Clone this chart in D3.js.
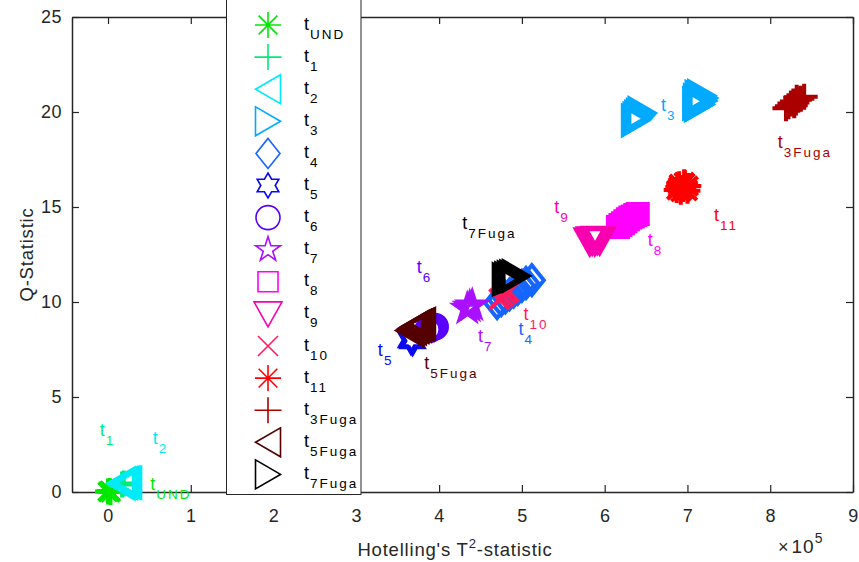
<!DOCTYPE html>
<html>
<head>
<meta charset="utf-8">
<script src="https://cdn.jsdelivr.net/npm/d3@7"></script>
<style>
  html, body { margin: 0; padding: 0; background: #fff; }
  svg { display: block; font-family: Arial, "Liberation Sans", Helvetica, sans-serif; }
</style>
</head>
<body>
<svg id="chart" width="859" height="562"></svg>
<script>
// Series names (main letter "t" + subscript)
const seriesNames = ["UND", "1", "2", "3", "4", "5", "6", "7", "8", "9", "10", "11", "3Fuga", "5Fuga", "7Fuga"];

// Observations per series: [Hotelling T² (×10^5), Q-statistic]
const ptsUND = [[0.00, 0.02], [0.02, 0.05], [0.03, 0.00]];
const pts1 = [[0.17, 0.40], [0.19, 0.45]];
const pts2 = [[0.16, 0.45], [0.19, 0.47], [0.22, 0.50], [0.24, 0.48]];
const pts3 = [[6.37, 19.55], [6.39, 19.65], [6.41, 19.75], [6.43, 19.85], [6.45, 19.95],
              [7.11, 20.45], [7.12, 20.62], [7.13, 20.52], [7.13, 20.35], [7.14, 20.45],
              [7.14, 20.80], [7.15, 20.60], [7.15, 20.40], [7.16, 20.72], [7.17, 20.68],
              [7.17, 20.85], [7.18, 20.58], [7.19, 20.74]];
const pts4 = [[4.70, 9.95], [4.75, 10.10], [4.80, 10.25], [4.85, 10.40], [4.90, 10.55],
              [4.95, 10.70], [5.00, 10.85], [5.05, 11.00], [5.12, 11.15]];
const pts5 = [[3.66, 8.00], [3.68, 7.95]];
const pts6 = [[3.87, 8.55], [3.91, 8.62], [3.95, 8.70]];
const pts7 = [[4.34, 9.65], [4.37, 9.75], [4.40, 9.82]];
const pts8 = [[6.16, 13.95], [6.19, 14.05], [6.22, 14.15], [6.25, 14.25], [6.28, 14.35],
              [6.31, 14.45], [6.34, 14.50], [6.37, 14.58], [6.40, 14.63]];
const pts9 = [[5.82, 13.20], [5.85, 13.25], [5.88, 13.22], [5.91, 13.28], [5.94, 13.25]];
const pts10 = [[4.73, 10.15], [4.77, 10.30], [4.81, 10.45], [4.84, 10.55]];
const pts11 = [[6.87, 15.90], [6.90, 16.20], [6.94, 16.00], [6.97, 16.25], [7.00, 15.85],
               [6.92, 15.80], [6.96, 16.30], [7.01, 16.10], [6.89, 16.05], [6.95, 15.95]];
const pts3Fuga = [[8.19, 20.20], [8.22, 20.30], [8.25, 20.45], [8.28, 20.55], [8.31, 20.50],
                  [8.34, 20.65], [8.37, 20.70], [8.41, 20.80], [8.29, 20.35], [8.32, 20.75]];
const pts5Fuga = [[3.65, 8.50], [3.68, 8.60], [3.71, 8.68], [3.74, 8.75], [3.77, 8.80], [3.79, 8.85]];
const pts7Fuga = [[4.81, 11.20], [4.84, 11.25], [4.87, 11.30], [4.90, 11.35], [4.93, 11.37]];

const seriesPoints = [ptsUND, pts1, pts2, pts3, pts4, pts5, pts6, pts7, pts8, pts9, pts10, pts11,
                      pts3Fuga, pts5Fuga, pts7Fuga];

// Text annotations placed in data coordinates: [x, y]
const labelAt = [[0.51, 0.10], [-0.10, 2.95], [0.54, 2.53], [6.68, 20.05], [4.96, 8.26],
                 [3.26, 7.16], [3.73, 11.53], [4.47, 7.89], [6.52, 12.95], [5.39, 14.68],
                 [5.02, 9.05], [7.32, 14.26], [8.09, 18.10], [3.82, 6.47], [4.28, 13.84]];

// Axis ticks
const xTicks = [0, 1, 2, 3, 4, 5, 6, 7, 8, 9];
const yTicks = [0, 5, 10, 15, 20, 25];
const xDomain = [-0.435, 9];
const yDomain = [0, 25];

// Marker type and colour per series
const markers = ["asterisk", "plus", "triL", "triR", "diamond", "hexagram", "circle", "pentagram",
                 "square", "triD", "x", "asterisk", "plus", "triL", "triR"];
const colors = ["#00e800", "#00ec78", "#00eaf8", "#00aaff", "#1466ff", "#0a0af0", "#5a00ff", "#aa10ff",
                "#ff00ff", "#f800b0", "#ff1a5e", "#ff0000", "#aa0000", "#550000", "#000000"];

const axisColor = "#262626";

function markerPath(type) {
  switch (type) {
    case "asterisk": {
      const r = 13, a = r * 0.72;
      return `M${-r},0L${r},0M0,${-r}L0,${r}M${-a},${-a}L${a},${a}M${-a},${a}L${a},${-a}`;
    }
    case "plus": return "M-13.5,0L13.5,0M0,-13L0,13";
    case "triL": return "M-12.5,0L12.5,-14.5L12.5,14.5Z";
    case "triR": return "M12.5,0L-12.5,-14.5L-12.5,14.5Z";
    case "triD": return "M-14,-12L14,-12L0,13Z";
    case "diamond": return "M0,-15L12,0L0,15L-12,0Z";
    case "square": return "M-10,-10L10,-10L10,10L-10,10Z";
    case "x": return "M-10,-10L10,10M-10,10L10,-10";
    case "circle": return "M12,0A12,12 0 1,1 -12,0A12,12 0 1,1 12,0Z";
    case "hexagram": {
      const R = 12.5, r = R / Math.sqrt(3);
      const p = [];
      for (let k = 0; k < 12; k++) {
        const ang = -Math.PI / 2 + k * Math.PI / 6;
        const rad = k % 2 === 0 ? R : r;
        p.push([rad * Math.cos(ang), rad * Math.sin(ang)]);
      }
      return "M" + p.map(d => d[0].toFixed(2) + "," + d[1].toFixed(2)).join("L") + "Z";
    }
    case "pentagram": {
      const R = 13, r = R * 0.382;
      const p = [];
      for (let k = 0; k < 10; k++) {
        const ang = -Math.PI / 2 + k * Math.PI / 5;
        const rad = k % 2 === 0 ? R : r;
        p.push([rad * Math.cos(ang), rad * Math.sin(ang)]);
      }
      return "M" + p.map(d => d[0].toFixed(2) + "," + d[1].toFixed(2)).join("L") + "Z";
    }
  }
  return "";
}

const svg = d3.select("#chart");
const plot = { left: 72, right: 853, top: 17, bottom: 492 };

const x = d3.scaleLinear().domain(xDomain).range([plot.left, plot.right]);
const y = d3.scaleLinear().domain(yDomain).range([plot.bottom, plot.top]);

// Axes: ticks pointing inward, mirrored on top/right
const gx = svg.append("g").attr("transform", `translate(0,${plot.bottom})`)
  .call(d3.axisBottom(x).tickValues(xTicks).tickSizeInner(-7).tickSizeOuter(0).tickPadding(17)
    .tickFormat(d3.format("d")));
const gy = svg.append("g").attr("transform", `translate(${plot.left},0)`)
  .call(d3.axisLeft(y).tickValues(yTicks).tickSizeInner(-7).tickSizeOuter(0).tickPadding(10)
    .tickFormat(d3.format("d")));
const gxt = svg.append("g").attr("transform", `translate(0,${plot.top})`)
  .call(d3.axisTop(x).tickValues(xTicks).tickSizeInner(-7).tickSizeOuter(0).tickFormat(""));
const gyr = svg.append("g").attr("transform", `translate(${plot.right},0)`)
  .call(d3.axisRight(y).tickValues(yTicks).tickSizeInner(-7).tickSizeOuter(0).tickFormat(""));

[gx, gy, gxt, gyr].forEach(g => {
  g.select(".domain").attr("stroke", axisColor).attr("stroke-width", 1.5);
  g.selectAll(".tick line").attr("stroke", axisColor).attr("stroke-width", 1.2);
  g.selectAll(".tick text").attr("fill", axisColor)
    .attr("font-family", "Arial, 'Liberation Sans', sans-serif")
    .attr("font-size", 18).style("letter-spacing", "0.5px");
});

// Data markers, later series drawn over earlier ones
seriesPoints.forEach((pts, i) => {
  svg.append("g").selectAll("path").data(pts).join("path")
    .attr("d", markerPath(markers[i]))
    .attr("transform", d => `translate(${x(d[0])},${y(d[1])})`)
    .attr("fill", "none")
    .attr("stroke", colors[i])
    .attr("stroke-width", 4)
    .attr("stroke-linejoin", "miter");
});

// "t" + subscript text helper
function subText(g, px, py, sub, color) {
  const t = g.append("text").attr("x", px).attr("y", py).attr("fill", color)
    .attr("font-size", 18);
  t.append("tspan").text("t");
  t.append("tspan").attr("dx", 1).attr("dy", 9).attr("font-size", 13.5)
    .style("letter-spacing", "2px").text(sub);
  return t;
}

// Annotations next to each cluster
const annG = svg.append("g");
labelAt.forEach((p, i) => {
  subText(annG, x(p[0]), y(p[1]), seriesNames[i], colors[i]);
});

// Axis labels
svg.append("text")
  .attr("transform", `translate(33,${(plot.top + plot.bottom) / 2}) rotate(-90)`)
  .attr("text-anchor", "middle").attr("fill", axisColor).attr("font-size", 18.5)
  .style("letter-spacing", "0.8px")
  .text("Q-Statistic");

const xl = svg.append("text").attr("x", 455).attr("y", 556).attr("text-anchor", "middle")
  .attr("fill", axisColor).attr("font-size", 18.5).style("letter-spacing", "0.8px");
xl.append("tspan").text("Hotelling's T");
xl.append("tspan").attr("dy", -8).attr("font-size", 13).text("2");
xl.append("tspan").attr("dy", 8).text("-statistic");

const ex = svg.append("text").attr("x", 778).attr("y", 553).attr("fill", axisColor)
  .attr("font-size", 19);
ex.append("tspan").attr("font-size", 18).text("\u00d7");
ex.append("tspan").attr("dx", 3).style("letter-spacing", "1px").text("10");
ex.append("tspan").attr("dy", -10).attr("font-size", 14).text("5");

// Legend
const leg = svg.append("g");
leg.append("rect").attr("x", 226.5).attr("y", -5).attr("width", 134.5).attr("height", 499.5)
  .attr("fill", "#fff").attr("stroke", axisColor).attr("stroke-width", 1);
seriesNames.forEach((name, i) => {
  const cy = 25 + i * 32.1;
  leg.append("path").attr("d", markerPath(markers[i]))
    .attr("transform", `translate(268,${cy})`)
    .attr("fill", "none").attr("stroke", colors[i]).attr("stroke-width", 1.6);
  subText(leg, 304, cy + 4.5, name, "#000");
});
</script>
</body>
</html>
